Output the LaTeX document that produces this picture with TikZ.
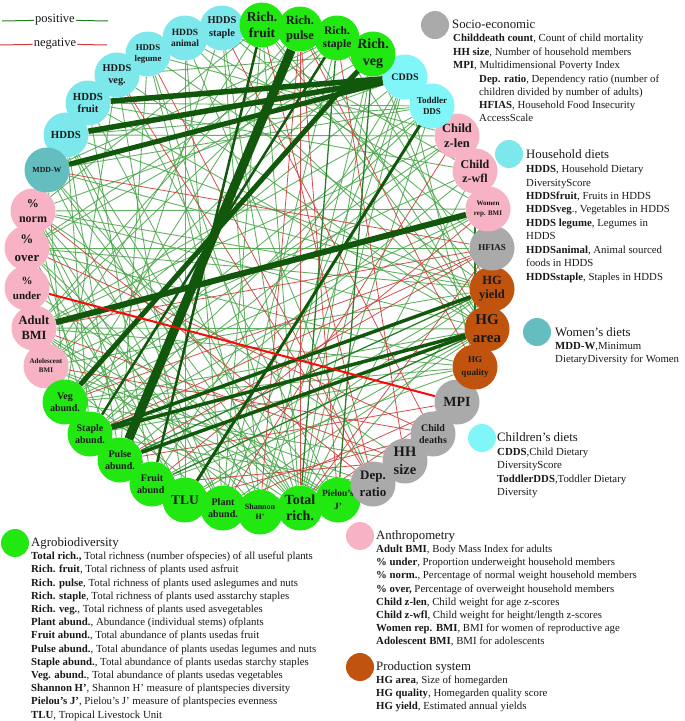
\documentclass[tikz,border=0pt]{standalone}
\usepackage{fontspec}
\setmainfont{Liberation Serif}
\usetikzlibrary{backgrounds}
\definecolor{cagro}{RGB}{34,232,18}
\definecolor{canth}{RGB}{247,178,195}
\definecolor{csocio}{RGB}{170,170,170}
\definecolor{chh}{RGB}{124,232,236}
\definecolor{cchild}{RGB}{128,246,248}
\definecolor{cwomen}{RGB}{100,190,192}
\definecolor{cprod}{RGB}{192,84,14}
\definecolor{cdark}{RGB}{17,88,12}
\definecolor{cpos}{RGB}{72,165,72}
\definecolor{cposm}{RGB}{40,125,40}
\definecolor{cneg}{RGB}{212,58,58}
\definecolor{cred}{RGB}{250,10,10}
\definecolor{ctext}{RGB}{25,25,25}
\newcommand{\fsz}[2]{\fontsize{#1}{#2}\selectfont\bfseries}
\newcommand{\lgf}{\fontsize{10.8}{13.2}\selectfont}
\newcommand{\lgh}{\fontsize{12.8}{14}\selectfont}
\tikzset{
  nd/.style={circle,minimum size=45pt,inner sep=0pt,align=center,text=ctext},
  lgc/.style={circle,minimum size=28pt,inner sep=0pt},
  lgt/.style={anchor=base west,inner sep=0pt,text=ctext,font=\lgf},
  lgth/.style={anchor=base west,inner sep=0pt,text=ctext,font=\lgh},
  ethin/.style={cpos,line width=0.9pt,opacity=0.85},
  emid/.style={cposm,line width=1.3pt},
  eneg/.style={cneg,line width=0.8pt,opacity=0.9},
  ethick/.style={cdark,line width=#1},
}
\begin{document}
\begin{tikzpicture}[x=1pt,y=-1pt]
\useasboundingbox (0,0) rectangle (685,721);
% ---------- ring nodes ----------
\node[nd,fill=chh,font={\fsz{10.4}{13}}] (hst) at (222,28) {HDDS\\staple};
\node[nd,fill=chh,font={\fsz{9.5}{11}}] (han) at (185,38) {HDDS\\animal};
\node[nd,fill=chh,font={\fsz{8.8}{11.7}}] (hl) at (148,54) {HDDS\\legume};
\node[nd,fill=chh,font={\fsz{10.3}{11.7}}] (hv) at (117,75) {HDDS\\veg.};
\node[nd,fill=chh,font={\fsz{10.8}{12.7}}] (hf) at (88,103) {HDDS\\fruit};
\node[nd,fill=chh,font={\fsz{10.8}{13}}] (hdds) at (66,135) {HDDS};
\node[nd,fill=canth,font={\fsz{12}{15}}] (pn) at (33,211) {\%\\norm};
\node[nd,fill=cwomen,font={\fsz{7.8}{9}}] (mddw) at (47,170) {MDD-W};
\node[nd,fill=canth,font={\fsz{13}{18}}] (po) at (27,248) {\%\\over};
\node[nd,fill=canth,font={\fsz{11}{15}}] (pu) at (27,288) {\%\\under};
\node[nd,fill=canth,font={\fsz{12.5}{15}}] (adult) at (34,328) {Adult\\BMI};
\node[nd,fill=canth,font={\fsz{7}{9}}] (adol) at (46,366) {Adolescent\\BMI};
\node[nd,fill=cagro,font={\fsz{10}{12}}] (va) at (65,402) {Veg\\abund.};
\node[nd,fill=cagro,font={\fsz{10}{12}}] (sa) at (90,434) {Staple\\abund.};
\node[nd,fill=cagro,font={\fsz{10}{12}}] (pua) at (120,460) {Pulse\\abund.};
\node[nd,fill=cagro,font={\fsz{10}{12}}] (fa) at (152,484) {Fruit\\abund.};
\node[nd,fill=cagro,font={\fsz{13.5}{15}}] (tlu) at (185,500) {TLU};
\node[nd,fill=cagro,font={\fsz{10}{12}}] (pa) at (223,508) {Plant\\abund.};
\node[nd,fill=cagro,font={\fsz{8}{10}}] (sh) at (260,512) {Shannon\\H'};
\node[nd,fill=cagro,font={\fsz{14}{16}}] (tr) at (300,508) {Total\\rich.};
\node[nd,fill=cagro,font={\fsz{9.5}{13}}] (pj) at (338,500) {Pielou's\\J'};
\node[nd,fill=csocio,font={\fsz{13}{17}}] (dep) at (373,484) {Dep.\\ratio};
\node[nd,fill=csocio,font={\fsz{14.5}{18}}] (hh) at (405,461) {HH\\size};
\node[nd,fill=csocio,font={\fsz{10}{12.5}}] (cd) at (433,434) {Child\\deaths};
\node[nd,fill=csocio,font={\fsz{14}{16}}] (mpi) at (457,402) {MPI};
\node[nd,fill=cprod,font={\fsz{9}{13}}] (hgq) at (475,367) {HG\\quality};
\node[nd,fill=cprod,font={\fsz{15}{18}}] (hga) at (487,329) {HG\\area};
\node[nd,fill=cprod,font={\fsz{12.5}{14}}] (hgy) at (492,289) {HG\\yield};
\node[nd,fill=csocio,font={\fsz{9}{11}}] (hfias) at (492,248) {HFIAS};
\node[nd,fill=canth,font={\fsz{7}{10}}] (wbmi) at (488,209) {Women\\rep. BMI};
\node[nd,fill=canth,font={\fsz{12}{14}}] (czw) at (475,171) {Child\\z-wfl};
\node[nd,fill=canth,font={\fsz{12.5}{15}}] (czl) at (457,136) {Child\\z-len};
\node[nd,fill=cchild,font={\fsz{9}{11}}] (tdds) at (432,106) {Toddler\\DDS};
\node[nd,fill=cchild,font={\fsz{10}{12}}] (cdds) at (405,77) {CDDS};
\node[nd,fill=cagro,font={\fsz{14}{17}}] (rv) at (373,54) {Rich.\\veg};
\node[nd,fill=cagro,font={\fsz{11.5}{13}}] (rs) at (337,38) {Rich.\\staple};
\node[nd,fill=cagro,font={\fsz{12.5}{14.5}}] (rp) at (300,29) {Rich.\\pulse};
\node[nd,fill=cagro,font={\fsz{13.5}{16}}] (rf) at (262,25) {Rich.\\fruit};
% ---------- edges ----------
\begin{pgfonlayer}{background}
\foreach \a/\b in {hdds/czl, hdds/hgy, hdds/tdds, hdds/tr, hdds/pa, hdds/sh, hdds/pua, hdds/sa,
  hf/tdds, hf/tr, hf/fa, hf/czw, hf/hga,
  hv/va, hv/hga, hv/pj, hv/rv, hv/tlu,
  hl/pua, hl/tr, hl/czl, hl/hgy, hl/sh,
  han/tlu, han/dep, han/hga, han/wbmi, han/pa,
  hst/sa, hst/sh, hst/hfias, hst/czw, hst/tr,
  mddw/tr, mddw/pa, mddw/hgy, mddw/rs, mddw/tdds, mddw/pj, mddw/va,
  cdds/tr, cdds/sh, cdds/pa, cdds/adol, cdds/pn, cdds/fa, cdds/hgq,
  tdds/va, tdds/sa, tdds/adult, tdds/tr,
  rf/hgy, rf/tr, rf/pa, rf/adol, rf/pn, rf/hga,
  rp/hga, rp/va, rp/adult,
  rs/hgy, rs/adult, rs/pa, rs/po,
  rv/tr, rv/hga, rv/po, rv/sh, rv/adol,
  czl/va, czl/sa, czl/adult,
  czw/tr, czw/adol, czw/pua,
  wbmi/sa, wbmi/pn, wbmi/va,
  hfias/po,
  hgy/pn, hgy/adol, hgy/fa, hgy/tr, hgy/tlu, hgy/po,
  hga/pn, hga/va, hga/adult, hga/tlu, hga/pa,
  hgq/po, hgq/adult, hgq/va, hgq/sa, hgq/fa,
  hh/pn, hh/va,
  dep/adol, dep/sa,
  pj/adult, pj/pu, pj/adol,
  tr/pn, tr/po, tr/adult, tr/va,
  sh/po, sh/adult,
  pa/pn, pa/adol,
  tlu/pn, tlu/po,
  fa/pn, pua/po, sa/pn}
  \draw[ethin] (\a) -- (\b);
\foreach \a/\b in {mddw/hfias, pn/dep, po/cd, adult/hh, hfias/sa, hfias/va, hfias/tr, hfias/adult,
  wbmi/fa, czl/pa, mpi/tr, mpi/pa, mpi/pua, cd/tlu, hh/fa, dep/rf, dep/hl, fa/tr,
  rp/hgq, rp/tr, rp/pj, rp/sh, cd/hst, hh/rs, hfias/pua, cd/adol, dep/hv}
  \draw[eneg] (\a) -- (\b);
\foreach \a/\b in {czw/hgq, fa/hga, pua/hgy, tr/rs, pj/rv}
  \draw[emid] (\a) -- (\b);
\draw[ethick=9pt] (rp) -- (pua);
\draw[ethick=5pt] (rv) -- (va);
\draw[ethick=2.5pt] (rf) -- (fa);
\draw[ethick=2.5pt] (rs) -- (sa);
\draw[ethick=5.5pt] (cdds) -- (hf);
\draw[ethick=5.5pt] (cdds) -- (hdds);
\draw[ethick=5pt] (cdds) -- (mddw);
\draw[ethick=6pt] (adult) -- (wbmi);
\draw[ethick=3.5pt] (sa) -- (hgy);
\draw[ethick=3.5pt] (sa) -- (hga);
\draw[ethick=3.5pt] (pua) -- (hga);
\draw[ethick=3pt] (tlu) -- (tdds);
\draw[cred,line width=2pt] (pu) -- (mpi);
\end{pgfonlayer}
% ---------- top-left key ----------
\coordinate (p1) at (2,21);
\coordinate (p2) at (108,21);
\coordinate (n1) at (0,45);
\coordinate (n2) at (107,45);
\node[fill=white,inner sep=1pt,text=ctext,font=\fontsize{12.5}{14}\selectfont] (pos) at (55,20) {positive};
\node[fill=white,inner sep=1pt,text=ctext,font=\fontsize{12.5}{14}\selectfont] (neg) at (55,44) {negative};
\draw[cposm,line width=1pt] (p1) -- (pos);
\draw[cposm,line width=1pt] (pos) -- (p2);
\draw[cneg,line width=1pt] (n1) -- (neg);
\draw[cneg,line width=1pt] (neg) -- (n2);
% ---------- Socio-economic ----------
\node[lgc,fill=csocio] (lsoc) at (435,25) {};
\node[lgth] (lsoch) at (452,28.5) {Socio-economic};
\node[lgt] (ls1) at (453,41.7) {\textbf{Childdeath count}, Count of child mortality};
\node[lgt] (ls2) at (453,55.5) {\textbf{HH size}, Number of household members};
\node[lgt] (ls3) at (453,68.5) {\textbf{MPI}, Multidimensional Poverty Index};
\node[lgt] (ls4) at (479,82.5) {\textbf{Dep. ratio}, Dependency ratio (number of};
\node[lgt] (ls5) at (479,95.5) {children divided by number of adults)};
\node[lgt] (ls6) at (479,108.5) {\textbf{HFIAS}, Household Food Insecurity};
\node[lgt] (ls7) at (479,121.5) {AccessScale};
% ---------- Household diets ----------
\node[lgc,fill=chh] (lhh) at (509,154) {};
\node[lgth] (lhhh) at (526,158.5) {Household diets};
\node[lgt] (lh1) at (526,172.7) {\textbf{HDDS}, Household Dietary};
\node[lgt] (lh2) at (526,186.7) {DiversityScore};
\node[lgt] (lh3) at (526,199.7) {\textbf{HDDSfruit}, Fruits in HDDS};
\node[lgt] (lh4) at (526,212.7) {\textbf{HDDSveg}., Vegetables in HDDS};
\node[lgt] (lh5) at (526,226.7) {\textbf{HDDS legume}, Legumes in};
\node[lgt] (lh6) at (526,239.7) {HDDS};
\node[lgt] (lh7) at (526,253.7) {\textbf{HDDSanimal}, Animal sourced};
\node[lgt] (lh8) at (526,266.7) {foods in HDDS};
\node[lgt] (lh9) at (526,280.7) {\textbf{HDDSstaple}, Staples in HDDS};
% ---------- Women's diets ----------
\node[lgc,fill=cwomen] (lwo) at (537,332) {};
\node[lgth] (lwoh) at (555,336.5) {Women's diets};
\node[lgt] (lw1) at (555,349.7) {\textbf{MDD-W},Minimum};
\node[lgt] (lw2) at (555,362.7) {DietaryDiversity for Women};
% ---------- Children's diets ----------
\node[lgc,fill=cchild] (lch) at (482,438) {};
\node[lgth] (lchh) at (497,441.5) {Children's diets};
\node[lgt] (lc1) at (497,455.7) {\textbf{CDDS},Child Dietary};
\node[lgt] (lc2) at (497,468.7) {DiversityScore};
\node[lgt] (lc3) at (497,482.7) {\textbf{ToddlerDDS},Toddler Dietary};
\node[lgt] (lc4) at (497,495.7) {Diversity};
% ---------- Agrobiodiversity ----------
\node[lgc,fill=cagro] (lag) at (15,543) {};
\node[lgth] (lagh) at (31,546.5) {Agrobiodiversity};
\node[lgt] (la1) at (31,559.7) {\textbf{Total rich.,} Total richness (number ofspecies) of all useful plants};
\node[lgt] (la2) at (31,572.9) {\textbf{Rich. fruit}, Total richness of plants used asfruit};
\node[lgt] (la3) at (31,586.1) {\textbf{Rich. pulse}, Total richness of plants used aslegumes and nuts};
\node[lgt] (la4) at (31,599.3) {\textbf{Rich. staple}, Total richness of plants used asstarchy staples};
\node[lgt] (la5) at (31,612.5) {\textbf{Rich. veg.}, Total richness of plants used asvegetables};
\node[lgt] (la6) at (31,625.7) {\textbf{Plant abund.}, Abundance (individual stems) ofplants};
\node[lgt] (la7) at (31,638.9) {\textbf{Fruit abund.}, Total abundance of plants usedas fruit};
\node[lgt] (la8) at (31,652.1) {\textbf{Pulse abund.}, Total abundance of plants usedas legumes and nuts};
\node[lgt] (la9) at (31,665.3) {\textbf{Staple abund.}, Total abundance of plants usedas starchy staples};
\node[lgt] (la10) at (31,678.5) {\textbf{Veg. abund.}, Total abundance of plants usedas vegetables};
\node[lgt] (la11) at (31,691.7) {\textbf{Shannon H'}, Shannon H' measure of plantspecies diversity};
\node[lgt] (la12) at (31,704.9) {\textbf{Pielou's J'}, Pielou's J' measure of plantspecies evenness};
\node[lgt] (la13) at (31,718.1) {\textbf{TLU}, Tropical Livestock Unit};
% ---------- Anthropometry ----------
\node[lgc,fill=canth] (lan) at (360,536) {};
\node[lgth] (lanh) at (376,539.5) {Anthropometry};
\node[lgt] (ln1) at (376,552.7) {\textbf{Adult BMI}, Body Mass Index for adults};
\node[lgt] (ln2) at (376,565.8) {\textbf{\% under}, Proportion underweight household members};
\node[lgt] (ln3) at (376,578.9) {\textbf{\% norm.}, Percentage of normal weight household members};
\node[lgt] (ln4) at (376,592.0) {\textbf{\% over,} Percentage of overweight household members};
\node[lgt] (ln5) at (376,605.1) {\textbf{Child z-len}, Child weight for age z-scores};
\node[lgt] (ln6) at (376,618.2) {\textbf{Child z-wfl}, Child weight for height/length z-scores};
\node[lgt] (ln7) at (376,631.3) {\textbf{Women rep. BMI}, BMI for women of reproductive age};
\node[lgt] (ln8) at (376,644.4) {\textbf{Adolescent BMI}, BMI for adolescents};
% ---------- Production system ----------
\node[lgc,fill=cprod] (lpr) at (360,667) {};
\node[lgth] (lprh) at (376,670.5) {Production system};
\node[lgt] (lp1) at (376,683.7) {\textbf{HG area}, Size of homegarden};
\node[lgt] (lp2) at (376,696.8) {\textbf{HG quality}, Homegarden quality score};
\node[lgt] (lp3) at (376,709.9) {\textbf{HG yield}, Estimated annual yields};
\end{tikzpicture}
\end{document}
